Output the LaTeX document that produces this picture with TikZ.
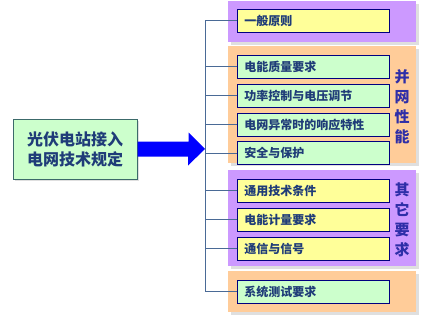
\documentclass[tikz,border=0pt]{standalone}
\usepackage{fontspec}
\newfontfamily\cjk{Noto Sans CJK SC}
\usepackage{xcolor}
\usetikzlibrary{positioning,arrows.meta,calc,shadows}

\definecolor{lilac}{HTML}{CC99FF}
\definecolor{peach}{HTML}{FFCC99}
\definecolor{paleyellow}{HTML}{FFFF99}
\definecolor{palegreen}{HTML}{CCFFCC}
\definecolor{itemline}{HTML}{000080}
\definecolor{itemtext}{HTML}{1F3C78}
\definecolor{sidetext}{HTML}{2E2EA8}
\definecolor{connline}{HTML}{4A6A96}
\definecolor{mainline}{HTML}{3C6A6A}

\begin{document}
\begin{tikzpicture}[
		x=1pt,y=-1pt,
		grp/.style={
			minimum width=188pt,
			inner sep=0pt,
			drop shadow={shadow xshift=3pt,shadow yshift=-3pt,opacity=0.25}
		},
		item/.style={
			draw=itemline,
			line width=0.8pt,
			anchor=north west,
			align=left,
			text width=138pt,
			inner xsep=7pt,
			inner ysep=0pt,
			minimum height=23pt,
			text=itemtext,
			font=\cjk\bfseries\fontsize{12}{14}\selectfont
		},
		side/.style={
			align=center,
			text=sidetext,
			font=\cjk\bfseries\fontsize{15}{20}\selectfont
		},
		conn/.style={draw=connline,line width=0.9pt}
		]
		
		\useasboundingbox (0,0) rectangle (435,316);
		
		% group backgrounds
		\node[grp,fill=lilac,minimum height=41pt] (g1) at (322,21.5) {};
		\node[grp,fill=peach,minimum height=117pt] (g2) at (322,104.5) {};
		\node[grp,fill=lilac,minimum height=96pt] (g3) at (322,218) {};
		\node[grp,fill=peach,minimum height=41pt] (g4) at (322,291.5) {};
		
		% items
		\node[item,fill=paleyellow] (i1) at (237,9) {一般原则};
		
		\node[item,fill=palegreen] (i2) at (237,55) {电能质量要求};
		\node[item,fill=palegreen,below=5pt of i2] (i3) {功率控制与电压调节};
		\node[item,fill=palegreen,below=5pt of i3] (i4) {电网异常时的响应特性};
		\node[item,fill=palegreen,below=5pt of i4] (i5) {安全与保护};
		
		\node[item,fill=paleyellow] (i6) at (237,179) {通用技术条件};
		\node[item,fill=paleyellow,below=5pt of i6] (i7) {电能计量要求};
		\node[item,fill=paleyellow,below=5pt of i7] (i8) {通信与信号};
		
		\node[item,fill=palegreen] (i9) at (237,280) {系统测试要求};
		
		% side labels
		\node[side] (s1) at (402,107) {并\\网\\性\\能};
		\node[side] (s2) at (402,220) {其\\它\\要\\求};
		
		% main box
		\node[draw=mainline,line width=1pt,fill=palegreen,
		minimum width=124pt,minimum height=60pt,align=center,
		text=itemtext,font=\cjk\bfseries\fontsize{16}{20}\selectfont,
		drop shadow={shadow xshift=2pt,shadow yshift=-2pt,opacity=0.25}] (main)
		at (75,149) {光伏电站接入\\电网技术规定};
		
		% tree
		\coordinate (spine) at (205,0);
		\draw[conn] (i1.west) -- (spine |- i1.west) |- (i9.west);
		\foreach \k in {2,...,8}
		\draw[conn] (spine |- i\k.west) -- (i\k.west);
		
		% big arrow
		\fill[blue] ([yshift=7.5pt]main.east) -- ++(51,0) -- ++(0,-9)
		-- (spine |- main.east) -- ++(-17,16.5) -- ++(0,-9)
		-- ([yshift=-7.5pt]main.east) -- cycle;
		
	\end{tikzpicture}
\end{document}
